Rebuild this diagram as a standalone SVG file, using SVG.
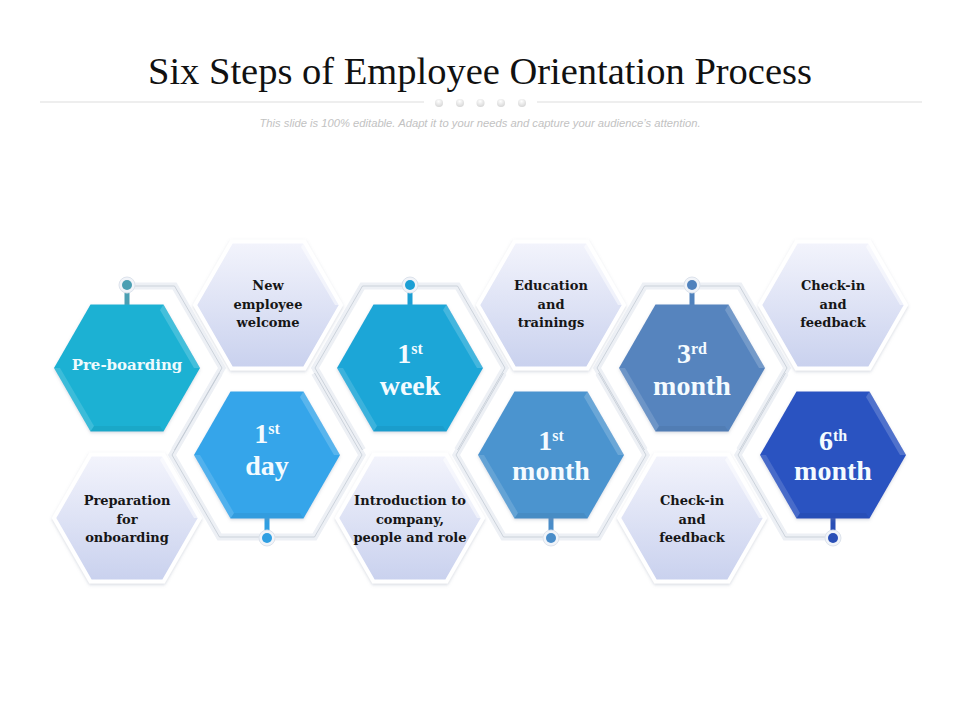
<svg xmlns="http://www.w3.org/2000/svg" width="960" height="720" viewBox="0 0 960 720">
<defs>
  <style>
    .title{font-family:"Liberation Serif","Times New Roman",serif;font-size:38.5px;fill:#111}
    .sub{font-family:"Liberation Sans",Arial,sans-serif;font-style:italic;font-size:10px;fill:#c2c2c2}
    .lbl{font-family:"DejaVu Serif","Liberation Serif",serif;font-weight:bold;font-size:13px;fill:#161616;text-anchor:middle}
    .big{font-family:"Liberation Serif","Times New Roman",serif;font-weight:bold;font-size:28px;fill:#f4fbff;text-anchor:middle}
    .sup{font-size:16px}
    .pre{font-family:"DejaVu Serif","Liberation Serif",serif;font-weight:bold;font-size:15px;fill:#effafd;text-anchor:middle}
    .band{fill:none;stroke:#edf0f5;stroke-width:7;stroke-linejoin:miter}
    .bline{fill:none;stroke:#bdc5d0;stroke-width:0.7;stroke-linejoin:miter}
    .halo{fill:#f1f4f9;stroke:#dde3ec;stroke-width:1}
  </style>
  <linearGradient id="lav" x1="0" y1="0" x2="0" y2="1">
    <stop offset="0" stop-color="#f3f4fc"/>
    <stop offset="1" stop-color="#c9d1ee"/>
  </linearGradient>
  <radialGradient id="dotg" cx="0.45" cy="0.3" r="0.7">
    <stop offset="0" stop-color="#ffffff"/>
    <stop offset="1" stop-color="#d6d6d6"/>
  </radialGradient>
  <filter id="sh" x="-20%" y="-20%" width="140%" height="140%">
    <feDropShadow dx="0" dy="1.5" stdDeviation="1.8" flood-color="#7f8aa3" flood-opacity="0.3"/>
  </filter>
  <polygon id="hex" points="-73,0 -36.5,-63.5 36.5,-63.5 73,0 36.5,63.5 -36.5,63.5"/>
  <polygon id="bevR" points="36.5,-63.5 73,0 67,0 33,-58" fill="#ffffff" fill-opacity="0.18"/>
  <polygon id="bevL" points="-73,0 -36.5,63.5 -33,58 -67,0" fill="#ffffff" fill-opacity="0.14"/>
  <polygon id="bevB" points="-36.5,63.5 36.5,63.5 33,58 -33,58" fill="#000000" fill-opacity="0.05"/>
  <g id="light">
    <use href="#hex" fill="url(#lav)" stroke="#ffffff" stroke-width="4" filter="url(#sh)"/>
    <polygon points="36.5,-63.5 73,0 67,0 33,-58" fill="#ffffff" fill-opacity="0.5"/>
  </g>
</defs>

<rect width="960" height="720" fill="#ffffff"/>

<g id="header">
  <text class="title" x="480" y="84" text-anchor="middle">Six Steps of Employee Orientation Process</text>
  <line x1="40" y1="102" x2="424" y2="102" stroke="#e8e8e8" stroke-width="1.5"/>
  <line x1="537" y1="102" x2="922" y2="102" stroke="#e8e8e8" stroke-width="1.5"/>
  <circle cx="439" cy="103" r="4" fill="url(#dotg)"/>
  <circle cx="460" cy="103" r="4" fill="url(#dotg)"/>
  <circle cx="480.5" cy="103" r="4" fill="url(#dotg)"/>
  <circle cx="501" cy="103" r="4" fill="url(#dotg)"/>
  <circle cx="522" cy="103" r="4" fill="url(#dotg)"/>
  <text class="sub" x="480" y="127" text-anchor="middle" textLength="441" lengthAdjust="spacingAndGlyphs">This slide is 100% editable. Adapt it to your needs and capture your audience’s attention.</text>
</g>

<g id="connectors">
  <path class="band" d="M127,286 H174.5 L222,368 L174.5,450"/>
  <path class="band" d="M219.5,373 L172,455 L219.5,537 H314.5 L362,455 L314.5,373"/>
  <path class="band" d="M362.5,450 L315,368 L362.5,286 H457.5 L505,368 L457.5,450"/>
  <path class="band" d="M503.5,373 L456,455 L503.5,537 H598.5 L646,455 L598.5,373"/>
  <path class="band" d="M644.5,450 L597,368 L644.5,286 H739.5 L787,368 L739.5,450"/>
  <path class="band" d="M785.5,373 L738,455 L785.5,537 H833"/>
  <path class="bline" d="M127,286 H174.5 L222,368 L174.5,450"/>
  <path class="bline" d="M219.5,373 L172,455 L219.5,537 H314.5 L362,455 L314.5,373"/>
  <path class="bline" d="M362.5,450 L315,368 L362.5,286 H457.5 L505,368 L457.5,450"/>
  <path class="bline" d="M503.5,373 L456,455 L503.5,537 H598.5 L646,455 L598.5,373"/>
  <path class="bline" d="M644.5,450 L597,368 L644.5,286 H739.5 L787,368 L739.5,450"/>
  <path class="bline" d="M785.5,373 L738,455 L785.5,537 H833"/>
</g>

<g id="node-new-employee" transform="translate(268,305)">
  <use href="#light"/>
  <text class="lbl" y="-15">New</text>
  <text class="lbl" y="3.5">employee</text>
  <text class="lbl" y="22">welcome</text>
</g>
<g id="node-preparation" transform="translate(127,518)">
  <use href="#light"/>
  <text class="lbl" y="-13">Preparation</text>
  <text class="lbl" y="5.5">for</text>
  <text class="lbl" y="24">onboarding</text>
</g>
<g id="node-education" transform="translate(551,305)">
  <use href="#light"/>
  <text class="lbl" y="-15">Education</text>
  <text class="lbl" y="3.5">and</text>
  <text class="lbl" y="22">trainings</text>
</g>
<g id="node-introduction" transform="translate(410,518)">
  <use href="#light"/>
  <text class="lbl" y="-13">Introduction to</text>
  <text class="lbl" y="5.5">company,</text>
  <text class="lbl" y="24">people and role</text>
</g>
<g id="node-checkin-top" transform="translate(833,305)">
  <use href="#light"/>
  <text class="lbl" y="-15">Check-in</text>
  <text class="lbl" y="3.5">and</text>
  <text class="lbl" y="22">feedback</text>
</g>
<g id="node-checkin-bottom" transform="translate(692,518)">
  <use href="#light"/>
  <text class="lbl" y="-13">Check-in</text>
  <text class="lbl" y="5.5">and</text>
  <text class="lbl" y="24">feedback</text>
</g>

<g id="node-preboarding" transform="translate(127,368)">
  <rect x="-2.5" y="-82" width="5" height="20" fill="#4a9fb3"/>
  <circle cy="-83" r="8" class="halo"/>
  <circle cy="-83" r="5" fill="#4a9fb3"/>
  <use href="#hex" fill="#1bb1d3" filter="url(#sh)"/>
  <use href="#bevR"/><use href="#bevL"/><use href="#bevB"/>
  <text class="pre" y="2">Pre-boarding</text>
</g>
<g id="node-1st-day" transform="translate(267,455)">
  <rect x="-2.5" y="62" width="5" height="20" fill="#2f9fe2"/>
  <circle cy="83" r="8" class="halo"/>
  <circle cy="83" r="5" fill="#2f9fe2"/>
  <use href="#hex" fill="#36a5ea" filter="url(#sh)"/>
  <use href="#bevR"/><use href="#bevL"/><use href="#bevB"/>
  <text class="big" y="-12">1<tspan class="sup" dy="-9">st</tspan></text>
  <text class="big" y="20">day</text>
</g>
<g id="node-1st-week" transform="translate(410,368)">
  <rect x="-2.5" y="-82" width="5" height="20" fill="#1c9fd4"/>
  <circle cy="-83" r="8" class="halo"/>
  <circle cy="-83" r="5" fill="#1c9fd4"/>
  <use href="#hex" fill="#1fa6d7" filter="url(#sh)"/>
  <use href="#bevR"/><use href="#bevL"/><use href="#bevB"/>
  <text class="big" y="-5">1<tspan class="sup" dy="-9">st</tspan></text>
  <text class="big" y="27">week</text>
</g>
<g id="node-1st-month" transform="translate(551,455)">
  <rect x="-2.5" y="62" width="5" height="20" fill="#4a8dc9"/>
  <circle cy="83" r="8" class="halo"/>
  <circle cy="83" r="5" fill="#4a8dc9"/>
  <use href="#hex" fill="#4c94cf" filter="url(#sh)"/>
  <use href="#bevR"/><use href="#bevL"/><use href="#bevB"/>
  <text class="big" y="-5">1<tspan class="sup" dy="-9">st</tspan></text>
  <text class="big" y="25">month</text>
</g>
<g id="node-3rd-month" transform="translate(692,368)">
  <rect x="-2.5" y="-82" width="5" height="20" fill="#5082bd"/>
  <circle cy="-83" r="8" class="halo"/>
  <circle cy="-83" r="5" fill="#5082bd"/>
  <use href="#hex" fill="#5784be" filter="url(#sh)"/>
  <use href="#bevR"/><use href="#bevL"/><use href="#bevB"/>
  <text class="big" y="-5">3<tspan class="sup" dy="-9">rd</tspan></text>
  <text class="big" y="27">month</text>
</g>
<g id="node-6th-month" transform="translate(833,455)">
  <rect x="-2.5" y="62" width="5" height="20" fill="#2a4fb6"/>
  <circle cy="83" r="8" class="halo"/>
  <circle cy="83" r="5" fill="#2a4fb6"/>
  <use href="#hex" fill="#2c53c1" filter="url(#sh)"/>
  <use href="#bevR"/><use href="#bevL"/><use href="#bevB"/>
  <text class="big" y="-5">6<tspan class="sup" dy="-9">th</tspan></text>
  <text class="big" y="25">month</text>
</g>
</svg>
